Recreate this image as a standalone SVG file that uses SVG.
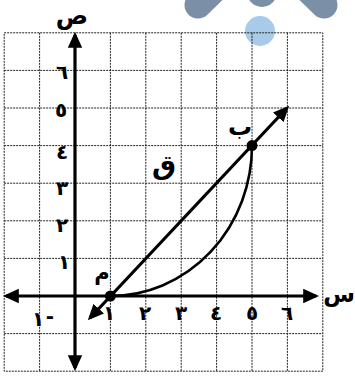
<svg xmlns="http://www.w3.org/2000/svg" width="355" height="376" viewBox="0 0 355 376">
<style>
.grid{stroke:#222;stroke-width:1;stroke-dasharray:2 1;fill:none}
.ax{stroke:#000;stroke-width:3.2;fill:none}
.lbl{font-family:"DejaVu Sans",sans-serif;font-weight:bold;fill:#000;text-anchor:middle}
.d{font-size:20px}
</style>
<defs>
<marker id="ah" viewBox="0 0 10 10" refX="8" refY="5" markerWidth="5" markerHeight="5" orient="auto-start-reverse" markerUnits="strokeWidth">
<path d="M0,0.5 L10,5 L0,9.5 z" fill="#000"/>
</marker>
</defs>
<rect width="355" height="376" fill="#fff"/>
<g id="watermark">
<line x1="198" y1="5" x2="232" y2="-28" stroke="#7b90a6" stroke-width="27" stroke-linecap="round"/>
<line x1="324" y1="5" x2="290" y2="-28" stroke="#7b90a6" stroke-width="27" stroke-linecap="round"/>
<circle cx="262" cy="-8" r="15" fill="#7b90a6"/>
<circle cx="260" cy="31" r="15" fill="#a9cbea"/>
</g>
<g id="grid">
<rect x="4.2" y="32.8" width="318.6" height="338.4" class="grid"/>
<path class="grid" d="M39.6,32.8V371.2M110.4,32.8V371.2M145.8,32.8V371.2M181.2,32.8V371.2M216.6,32.8V371.2M252,32.8V371.2M287.4,32.8V371.2M4.2,70.4H322.8M4.2,108H322.8M4.2,145.6H322.8M4.2,183.2H322.8M4.2,220.8H322.8M4.2,258.4H322.8M4.2,333.6H322.8"/>
</g>
<g id="connectors">
<line id="x-axis" class="ax" x1="6" y1="296" x2="316" y2="296" marker-start="url(#ah)" marker-end="url(#ah)"/>
<line id="y-axis" class="ax" x1="75" y1="35" x2="75" y2="368" marker-start="url(#ah)" marker-end="url(#ah)"/>
<line id="line-AB" class="ax" x1="90" y1="318" x2="287" y2="108" marker-start="url(#ah)" marker-end="url(#ah)"/>
<path id="curve-q" d="M110.4,296 A141.6,150.4 0 0 0 252,145.6" stroke="#000" stroke-width="2.6" fill="none"/>
</g>
<g id="point-A">
<circle cx="110.4" cy="296" r="5.5" fill="#000"/>
<text class="lbl" x="102" y="280" font-size="21">م</text>
</g>
<g id="point-B">
<circle cx="252" cy="145.6" r="5.5" fill="#000"/>
<text class="lbl" x="240" y="135" font-size="24">ب</text>
</g>
<g id="label-q">
<text class="lbl" x="164" y="174" font-size="27">ق</text>
</g>
<g id="axis-labels">
<text class="lbl" x="72" y="24" font-size="24">ص</text>
<text class="lbl" x="339" y="302" font-size="23">س</text>
</g>
<g id="y-ticks" class="lbl d">
<text x="62" y="79">٦</text>
<text x="61" y="117">٥</text>
<text x="62" y="159">٤</text>
<text x="62" y="195">٣</text>
<text x="62" y="232">٢</text>
<text x="64" y="269">١</text>
<text x="38" y="326">١</text>
<text x="50" y="323">-</text>
</g>
<g id="x-ticks" class="lbl d">
<text x="109" y="320">١</text>
<text x="145" y="320">٢</text>
<text x="181" y="320">٣</text>
<text x="216" y="320">٤</text>
<text x="252" y="320">٥</text>
<text x="287" y="320">٦</text>
</g>
</svg>
